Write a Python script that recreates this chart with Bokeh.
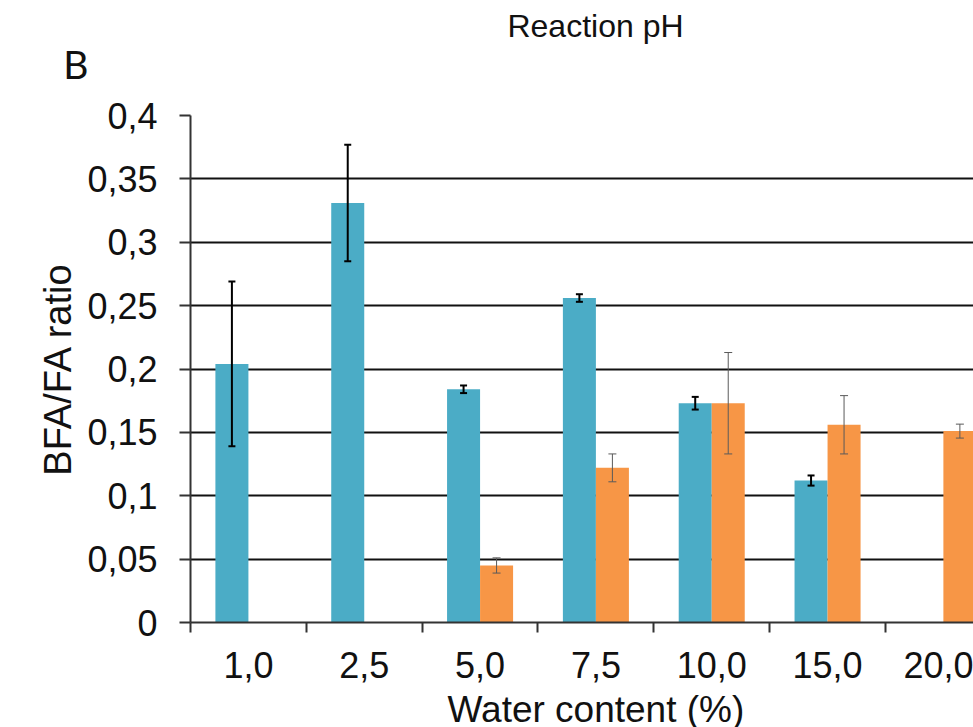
from bokeh.plotting import figure
from bokeh.layouts import column
from bokeh.models import (ColumnDataSource, Range1d, FixedTicker, Whisker, TeeHead, LinearAxis)
from bokeh.core.properties import value
from bokeh.embed import file_html
from bokeh.resources import INLINE

# ---- data ----
categories = ["1,0", "2,5", "5,0", "7,5", "10,0", "15,0", "20,0"]
blue_values = [0.204, 0.331, 0.184, 0.256, 0.173, 0.112, None]
blue_errors = [0.065, 0.046, 0.003, 0.003, 0.005, 0.004, None]
orange_values = [None, None, 0.045, 0.122, 0.173, 0.156, 0.151]
orange_errors = [None, None, 0.006, 0.011, 0.040, 0.023, 0.0055]
y_ticks = [0, 0.05, 0.1, 0.15, 0.2, 0.25, 0.3, 0.35, 0.4]
y_tick_labels = ["0", "0,05", "0,1", "0,15", "0,2", "0,25", "0,3", "0,35", "0,4"]

BLUE = "#4BACC6"
ORANGE = "#F79646"
FONT = "Liberation Sans"
TXT = "#111111"

BAR_W = 0.285
OFF = 0.1425

W = 973
LEFT = 190
HEAD_H = 95


def make_source(values, errors, offset):
    xs, tops, ups, lows = [], [], [], []
    for i, (v, e) in enumerate(zip(values, errors)):
        if v is None:
            continue
        xs.append(i + 0.5 + offset)
        tops.append(v)
        ups.append(v + e)
        lows.append(v - e)
    return ColumnDataSource(dict(x=xs, top=tops, upper=ups, lower=lows))


blue_src = make_source(blue_values, blue_errors, -OFF)
orange_src = make_source(orange_values, orange_errors, OFF)

# ---- header strip (title and panel letter), pixel coordinates ----
head = figure(width=W, height=HEAD_H, x_range=Range1d(LEFT, W), y_range=Range1d(HEAD_H, 0),
              min_border_left=LEFT, min_border_right=0, min_border_top=0, min_border_bottom=0,
              x_axis_location=None, y_axis_location="left",
              output_backend="svg", toolbar_location=None, tools="")
head.outline_line_color = None
head.xgrid.visible = False
head.ygrid.visible = False
head.text(x=[595], y=[25], text=["Reaction pH"], text_font=value(FONT),
          text_font_size="32px", text_align="center", text_baseline="middle", text_color=TXT)
# panel letter drawn as the single label of an otherwise invisible left axis
head.yaxis.ticker = FixedTicker(ticks=[63], minor_ticks=[])
head.yaxis.major_label_overrides = {63: "B"}
head.yaxis.axis_line_color = None
head.yaxis.major_tick_line_color = None
head.yaxis.minor_tick_line_color = None
head.yaxis.major_tick_out = 0
head.yaxis.major_tick_in = 0
head.yaxis.major_label_standoff = 102
head.yaxis.major_label_text_font = "Lato"
head.yaxis.major_label_text_font_size = "39px"
head.yaxis.major_label_text_color = TXT

# ---- main chart ----
p = figure(frame_width=W - LEFT, frame_height=507,
           min_border_left=LEFT, min_border_top=20, min_border_right=0, min_border_bottom=105,
           x_range=Range1d(0, 6.76), y_range=Range1d(0, 0.4),
           output_backend="svg", toolbar_location=None, tools="")
p.outline_line_color = None

p.vbar(x="x", top="top", width=BAR_W, bottom=0, source=blue_src,
       fill_color=BLUE, line_color=None)
p.vbar(x="x", top="top", width=BAR_W, bottom=0, source=orange_src,
       fill_color=ORANGE, line_color=None)

bw = Whisker(base="x", upper="upper", lower="lower", source=blue_src, level="annotation",
             line_color="black", line_width=2,
             upper_head=TeeHead(size=7, line_color="black", line_width=2),
             lower_head=TeeHead(size=7, line_color="black", line_width=2))
ow = Whisker(base="x", upper="upper", lower="lower", source=orange_src, level="annotation",
             line_color="#5a5a5a", line_width=1,
             upper_head=TeeHead(size=8, line_color="#5a5a5a", line_width=1),
             lower_head=TeeHead(size=8, line_color="#5a5a5a", line_width=1))
p.add_layout(bw)
p.add_layout(ow)

# x axis: labels at category centres, ticks at category boundaries
xa = p.xaxis[0]
xa.ticker = FixedTicker(ticks=[i + 0.5 for i in range(len(categories))],
                        minor_ticks=list(range(len(categories) + 1)))
xa.major_label_overrides = {i + 0.5: c for i, c in enumerate(categories)}
xa.major_tick_line_color = None
xa.major_tick_out = 10
xa.major_tick_in = 0
xa.minor_tick_line_color = "#333333"
xa.minor_tick_line_width = 2
xa.minor_tick_out = 10
xa.minor_tick_in = 0
xa.axis_line_color = "#333333"
xa.axis_line_width = 2
xa.major_label_text_font = FONT
xa.major_label_text_font_size = "36px"
xa.major_label_text_color = TXT
xa.major_label_standoff = 19

# x-axis title, centred on the full category span (which runs past the right edge)
x_title_pos = len(categories) / 2
xt = LinearAxis(ticker=FixedTicker(ticks=[x_title_pos], minor_ticks=[]),
                major_label_overrides={x_title_pos: "Water content (%)"},
                axis_line_color=None, major_tick_line_color=None, minor_tick_line_color=None,
                major_tick_out=0, major_tick_in=0, major_label_standoff=8,
                major_label_text_font=FONT, major_label_text_font_size="37px",
                major_label_text_color=TXT)
p.add_layout(xt, "below")

# y axis
p.yaxis.ticker = FixedTicker(ticks=y_ticks, minor_ticks=[])
p.yaxis.major_label_overrides = {t: l for t, l in zip(y_ticks, y_tick_labels)}
p.yaxis.major_tick_line_color = "#333333"
p.yaxis.major_tick_line_width = 2
p.yaxis.major_tick_out = 11
p.yaxis.major_tick_in = 0
p.yaxis.minor_tick_line_color = None
p.yaxis.axis_line_color = "#333333"
p.yaxis.axis_line_width = 2
p.yaxis.major_label_text_font = FONT
p.yaxis.major_label_text_font_size = "36px"
p.yaxis.major_label_text_color = TXT
p.yaxis.major_label_standoff = 22
p.yaxis.axis_label = "BFA/FA ratio"
p.yaxis.axis_label_text_font = FONT
p.yaxis.axis_label_text_font_size = "38px"
p.yaxis.axis_label_text_font_style = "normal"
p.yaxis.axis_label_text_color = TXT
p.yaxis.axis_label_standoff = 5

p.xgrid.grid_line_color = None
p.ygrid.grid_line_color = "#111111"
p.ygrid.grid_line_width = 2

layout = column(head, p, spacing=0)
open("out.html", "w").write(file_html(layout, INLINE))
